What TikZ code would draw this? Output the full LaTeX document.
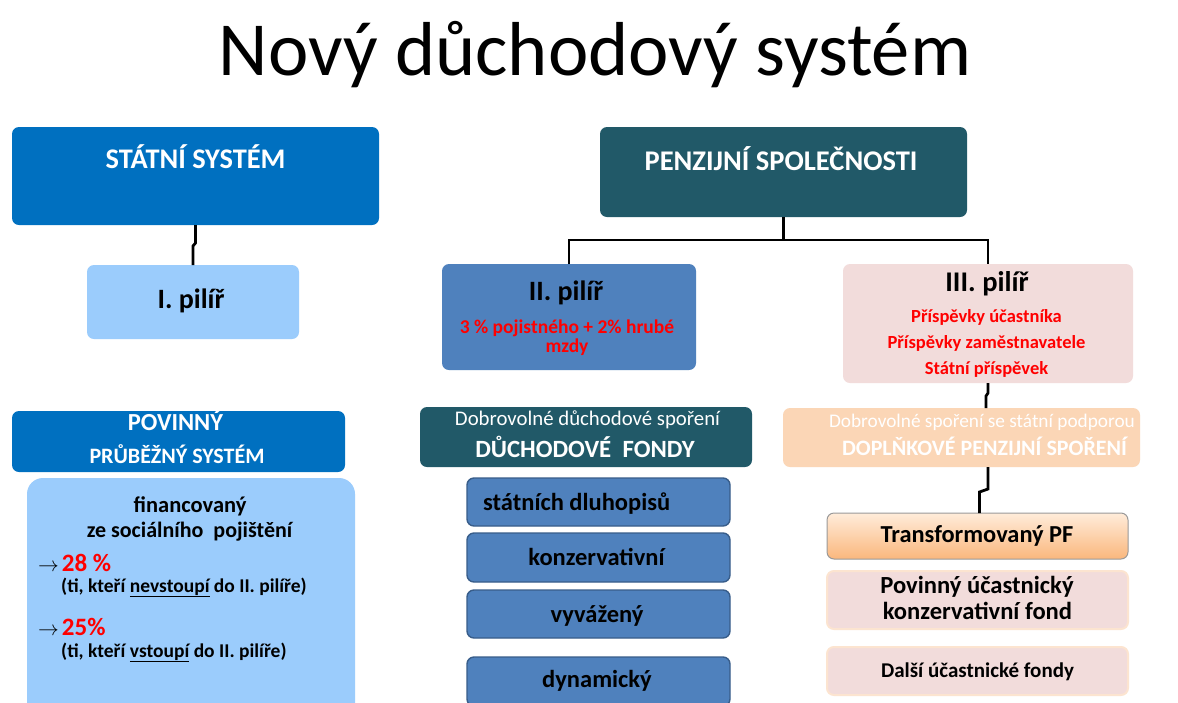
\documentclass[tikz,border=0pt]{standalone}
\usepackage{fontspec}
\setmainfont{Carlito}
\definecolor{statblue}{RGB}{0,112,192}
\definecolor{lightblue}{RGB}{155,204,252}
\definecolor{teal}{RGB}{33,89,104}
\definecolor{midblue}{RGB}{79,129,189}
\definecolor{midblueb}{RGB}{56,93,138}
\definecolor{pink}{RGB}{242,220,219}
\definecolor{peach}{RGB}{251,214,182}
\definecolor{peachline}{RGB}{252,228,208}
\definecolor{orangetop}{RGB}{255,236,218}
\definecolor{orangebot}{RGB}{250,183,125}
\definecolor{redtxt}{RGB}{255,0,0}
\newcommand\fs[1]{\fontsize{#1}{#1}\selectfont}
\begin{document}
\begin{tikzpicture}[x=1pt,y=-1pt,
  box/.style={rounded corners=7pt, inner sep=0pt, outer sep=0pt},
  lbl/.style={anchor=base, inner sep=0pt},
  lblw/.style={anchor=base west, inner sep=0pt},
  conn/.style={line width=2.8pt, black},
  fund/.style={box, fill=midblue, draw=midblueb, line width=1.4pt, minimum width=263pt},
  pinkfund/.style={box, fill=pink, draw=peachline, line width=2pt, minimum width=301pt},
]
\useasboundingbox (0,0) rectangle (1178,702);
\fill[white] (0,0) rectangle (1178,702);

% title
\node[lbl, font=\fs{76.5}] (title) at (595,75) {Nový důchodový systém};

% boxes
\node[box, fill=statblue, minimum width=367pt, minimum height=98pt] (stat) at (195.5,176) {};
\node[box, fill=lightblue, minimum width=212pt, minimum height=74pt] (pil1) at (193,302) {};
\node[box, fill=teal, minimum width=367pt, minimum height=90pt] (penz) at (783.5,172) {};
\node[box, fill=midblue, minimum width=254pt, minimum height=106pt] (pil2) at (569,317) {};
\node[box, fill=pink, minimum width=290pt, minimum height=119pt] (pil3) at (988,323.5) {};
\node[box, fill=statblue, minimum width=333pt, minimum height=61pt] (pov) at (178.5,441.5) {};
\node[box, rounded corners=16pt, fill=lightblue, minimum width=328pt, minimum height=242pt] (fin) at (191,599) {};
\node[box, fill=teal, minimum width=332pt, minimum height=60pt] (ddsh) at (586,437) {};
\node[fund, minimum height=48pt] (f1) at (598.5,502) {};
\node[fund, minimum height=49pt] (f2) at (598.5,557.5) {};
\node[fund, minimum height=48pt] (f3) at (598.5,614) {};
\node[fund, minimum height=49pt] (f4) at (598.5,681.5) {};
\node[box, fill=peach, minimum width=357pt, minimum height=59pt] (dps) at (961.5,437.5) {};
\node[box, top color=orangetop, bottom color=orangebot, draw=gray!80, line width=1pt, minimum width=301pt, minimum height=46pt] (tpf) at (977.5,536) {};
\node[pinkfund, minimum height=58pt] (puk) at (977.5,600) {};
\node[pinkfund, minimum height=48pt] (duf) at (977.5,671) {};

% connectors
\draw[conn] (stat.south) -- ++(0,18) -- ++(-2.5,3) -- (pil1.north);
\draw[conn] (penz.south) -- ++(0,23) coordinate (pj);
\draw[conn] (pil2.north) |- (pj) -| (pil3.north);
\draw[conn] (pil3.south) -- ++(0,10) -- ++(-2,3) -- ([xshift=-2pt]pil3.south |- dps.north);
\draw[conn] (pil3.south |- dps.south) -- ++(0,22) -- ++(-8.5,3) -- ([xshift=2pt]tpf.north);

% texts: top row
\node[lbl, text=white, font=\bfseries\fs{28.4}] (tstat) at (195.5,168) {STÁTNÍ SYSTÉM};
\node[lbl, font=\bfseries\fs{28}] (tpil1) at (191,308) {I. pilíř};
\node[lbl, text=white, font=\bfseries\fs{28.5}] (tpenz) at (781,170) {PENZIJNÍ SPOLEČNOSTI};
\node[lbl, font=\bfseries\fs{28}] (tpil2) at (566,300) {II. pilíř};
\node[lbl, text=redtxt, font=\bfseries\fs{19.5}] (tpil2a) at (567,333) {3 \% pojistného + 2\% hrubé};
\node[lbl, text=redtxt, font=\bfseries\fs{19.5}] (tpil2b) at (567,352) {mzdy};
\node[lbl, font=\bfseries\fs{28.5}] (tpil3) at (987,291) {III. pilíř};
\node[lbl, text=redtxt, font=\bfseries\fs{18.5}] (tpil3a) at (986.5,322) {Příspěvky účastníka};
\node[lbl, text=redtxt, font=\bfseries\fs{18.5}] (tpil3b) at (986.5,348) {Příspěvky zaměstnavatele};
\node[lbl, text=redtxt, font=\bfseries\fs{18.5}] (tpil3c) at (986.5,374) {Státní příspěvek};

% left lower
\node[lbl, text=white, font=\bfseries\fs{24.5}] (tpov1) at (175.5,430) {POVINNÝ};
\node[lbl, text=white, font=\bfseries\fs{22}] (tpov2) at (177,463) {PRŮBĚŽNÝ SYSTÉM};
\node[lbl, font=\bfseries\fs{22.5}] (tfin1) at (190,512) {financovaný};
\node[lbl, font=\bfseries\fs{22}] (tfin2) at (189.5,537) {ze sociálního\ \ pojištění};
\node[lblw] (tp28) at (38,571) {{\fs{21}$\rightarrow$}\hspace{3pt}{\color{redtxt}\bfseries\fs{25}28 \%}};
\node[lblw, font=\bfseries\fs{19.5}] (tp28b) at (61,592) {(ti, kteří \underline{nevstoupí} do II. pilíře)};
\node[lblw] (tp25) at (38,635) {{\fs{21}$\rightarrow$}\hspace{3pt}{\color{redtxt}\bfseries\fs{25}25\%}};
\node[lblw, font=\bfseries\fs{19.5}] (tp25b) at (61,657) {(ti, kteří \underline{vstoupí} do II. pilíře)};

% middle lower
\node[lbl, text=white, font=\fs{20.8}] (tdd1) at (587.5,425) {Dobrovolné důchodové spoření};
\node[lbl, text=white, font=\bfseries\fs{24.8}] (tdd2) at (585,457) {DŮCHODOVÉ\ \ FONDY};
\node[lblw, font=\bfseries\fs{24.5}] (tf1) at (483,510) {státních dluhopisů};
\node[lbl, font=\bfseries\fs{24.5}] (tf2) at (596.5,565) {konzervativní};
\node[lbl, font=\bfseries\fs{24.5}] (tf3) at (597,622) {vyvážený};
\node[lbl, font=\bfseries\fs{24.5}] (tf4) at (597,687) {dynamický};

% right lower
\node[lbl, text=white, font=\fs{19.3}] (tdp1) at (982,427) {Dobrovolné spoření se státní podporou};
\node[lbl, text=white, font=\bfseries\fs{22}] (tdp2) at (984.5,455) {DOPLŇKOVÉ PENZIJNÍ SPOŘENÍ};
\node[lbl, font=\bfseries\fs{24.4}] (ttpf) at (977,542) {Transformovaný PF};
\node[lbl, font=\bfseries\fs{24.6}] (tpuk1) at (977,593) {Povinný účastnický};
\node[lbl, font=\bfseries\fs{24.6}] (tpuk2) at (977.5,619) {konzervativní fond};
\node[lbl, font=\bfseries\fs{21}] (tduf) at (977.5,677) {Další účastnické fondy};
\end{tikzpicture}
\end{document}
